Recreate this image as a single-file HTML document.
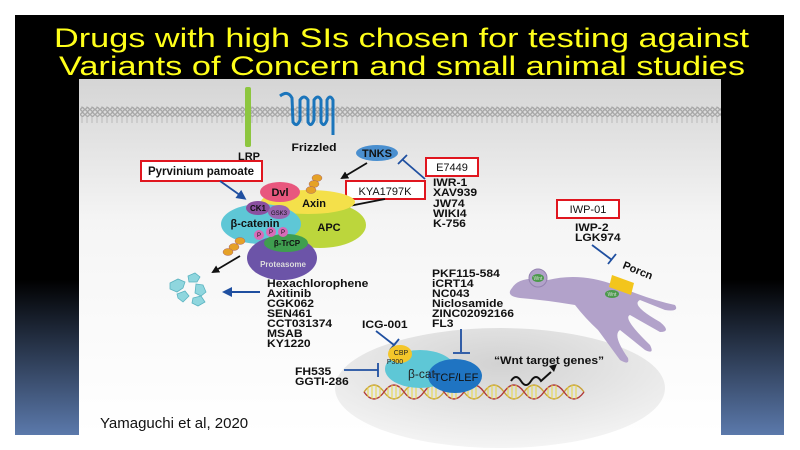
<!DOCTYPE html>
<html><head><style>
html,body{margin:0;padding:0;background:#fff;}
body{width:800px;height:450px;overflow:hidden;position:relative;}
svg{position:absolute;left:0;top:0;}
text{font-family:"Liberation Sans",sans-serif;}
.b{font-weight:bold;font-size:11px;fill:#111;}
</style></head><body>
<svg width="800" height="450" viewBox="0 0 800 450">
<defs>
<linearGradient id="bg" x1="0" y1="0" x2="0" y2="1">
<stop offset="0" stop-color="#000"/><stop offset="0.63" stop-color="#000"/><stop offset="1" stop-color="#5b79ab"/>
</linearGradient>
<linearGradient id="pn" x1="0" y1="0" x2="0" y2="1">
<stop offset="0" stop-color="#d5d5d5"/><stop offset="0.4" stop-color="#f5f5f5"/><stop offset="1" stop-color="#fff"/>
</linearGradient>
<radialGradient id="nuc" cx="0.5" cy="0.3" r="0.7">
<stop offset="0" stop-color="#d2d2d2"/><stop offset="1" stop-color="#f4f4f4"/>
</radialGradient>
<pattern id="mem" width="5" height="16" patternUnits="userSpaceOnUse">
<circle cx="2.5" cy="2.5" r="1.8" fill="none" stroke="#999" stroke-width="1.1"/>
<circle cx="2.5" cy="13.5" r="1.8" fill="none" stroke="#999" stroke-width="1.1"/>
<line x1="2" y1="4" x2="2" y2="12" stroke="#aaa" stroke-width="0.7"/>
</pattern>
<marker id="ak" markerWidth="8" markerHeight="8" refX="6" refY="4" orient="auto" markerUnits="userSpaceOnUse"><path d="M0,0 L8,4 L0,8 z" fill="#111"/></marker>
<marker id="ab" markerWidth="10" markerHeight="10" refX="7" refY="5" orient="auto" markerUnits="userSpaceOnUse"><path d="M0,0 L10,5 L0,10 z" fill="#1f4fa0"/></marker>
</defs>
<rect x="15" y="15" width="769" height="420" fill="url(#bg)"/>
<text x="54" y="47" textLength="695" lengthAdjust="spacingAndGlyphs" font-size="27" fill="#ffff1a">Drugs with high SIs chosen for testing against</text>
<text x="59" y="75" textLength="686" lengthAdjust="spacingAndGlyphs" font-size="27" fill="#ffff1a">Variants of Concern and small animal studies</text>
<rect x="79" y="79" width="642" height="356" fill="url(#pn)"/>
<rect x="80" y="106" width="641" height="17" fill="url(#mem)"/>
<!-- LRP -->
<rect x="245" y="87" width="6" height="60" fill="#8dc63f" rx="2"/>
<text x="249" y="160" class="b" text-anchor="middle">LRP</text>
<!-- Frizzled -->
<path d="M280,96 Q288,90 292,98 L293,122 Q297,128 300,120 L300,100 Q304,94 308,100 L308,122 Q311,128 314,120 L314,100 Q318,94 321,100 L321,122 Q324,128 327,120 L327,100 Q330,94 333,100 L333,135" fill="none" stroke="#1b75bb" stroke-width="3"/>
<text x="314" y="151" class="b" text-anchor="middle" transform="translate(314,0) scale(1.1,1) translate(-314,0)">Frizzled</text>
<!-- TNKS -->
<ellipse cx="377" cy="153" rx="21" ry="8" fill="#4a8fcf"/>
<text x="377" y="157" class="b" text-anchor="middle" font-size="11">TNKS</text>
<line x1="425" y1="179" x2="403" y2="160" stroke="#1f4fa0" stroke-width="1.8"/>
<line x1="398" y1="164" x2="407" y2="155" stroke="#1f4fa0" stroke-width="1.8"/>
<line x1="367" y1="163" x2="342" y2="178" stroke="#111" stroke-width="1.8" marker-end="url(#ak)"/>
<rect x="426" y="158" width="52" height="18" fill="#fff" stroke="#e0161f" stroke-width="2"/>
<text x="452" y="171" text-anchor="middle" font-size="11" fill="#111">E7449</text>
<g transform="translate(433,0) scale(1.1,1) translate(-433,0)">
<text x="433" y="186" class="b">IWR-1</text><text x="433" y="196" class="b">XAV939</text><text x="433" y="207" class="b">JW74</text><text x="433" y="217" class="b">WIKI4</text><text x="433" y="227" class="b">K-756</text></g>
<!-- Pyrvinium -->
<rect x="141" y="161" width="121" height="20" fill="#fff" stroke="#e0161f" stroke-width="2"/>
<text x="201" y="175" text-anchor="middle" font-size="11.5" font-weight="bold" fill="#111">Pyrvinium pamoate</text>
<line x1="220" y1="181" x2="244" y2="198" stroke="#1f4fa0" stroke-width="1.8" marker-end="url(#ab)"/>
<!-- KYA -->
<rect x="346" y="181" width="79" height="18" fill="#fff" stroke="#e0161f" stroke-width="2"/>
<text x="385" y="195" text-anchor="middle" font-size="11" fill="#111">KYA1797K</text>
<line x1="385" y1="199" x2="344" y2="207" stroke="#111" stroke-width="1.8" marker-end="url(#ak)"/>
<!-- complex -->
<ellipse cx="320" cy="225" rx="46" ry="23" fill="#bcd63c"/>
<ellipse cx="308" cy="202" rx="47" ry="12" fill="#f4e04a"/>
<ellipse cx="280" cy="192" rx="20" ry="10" fill="#e8577e"/>
<text x="280" y="196" class="b" text-anchor="middle" font-size="12">Dvl</text>
<text x="314" y="207" class="b" text-anchor="middle" font-size="13">Axin</text>
<text x="329" y="231" class="b" text-anchor="middle" font-size="14">APC</text>
<ellipse cx="261" cy="224" rx="40" ry="20" fill="#5ec7d6"/>
<ellipse cx="282" cy="258" rx="35" ry="22" fill="#6c54a8"/>
<text x="283" y="267" text-anchor="middle" font-size="8" font-weight="bold" fill="#ddd">Proteasome</text>
<ellipse cx="286" cy="243" rx="22" ry="9" fill="#3f9e4f"/>
<text x="287" y="246" text-anchor="middle" font-size="8" font-weight="bold" fill="#111">β-TrCP</text>
<ellipse cx="258" cy="208" rx="12" ry="7" fill="#8a4fa0"/><text x="258" y="211" text-anchor="middle" font-size="8" fill="#111" font-weight="bold">CK1</text>
<ellipse cx="279" cy="212" rx="11" ry="7" fill="#9a66b0"/><text x="279" y="215" text-anchor="middle" font-size="6" fill="#111">GSK3</text>
<text x="255" y="227" class="b" text-anchor="middle" font-size="12">β-catenin</text>
<g fill="#d86bb8"><circle cx="259" cy="235" r="5"/><circle cx="271" cy="232" r="5"/><circle cx="283" cy="232" r="5"/></g>
<g font-size="6" fill="#111" text-anchor="middle"><text x="259" y="237">P</text><text x="271" y="234">P</text><text x="283" y="234">P</text></g>
<g fill="#e5a127" stroke="#a66" stroke-width="0.5">
<ellipse cx="317" cy="178" rx="5" ry="3.5"/><ellipse cx="314" cy="184" rx="5" ry="3.5"/><ellipse cx="311" cy="190" rx="5" ry="3.5"/>
<ellipse cx="240" cy="241" rx="5" ry="3.5"/><ellipse cx="234" cy="247" rx="5" ry="3.5"/><ellipse cx="228" cy="252" rx="5" ry="3.5"/>
</g>
<line x1="240" y1="256" x2="213" y2="272" stroke="#111" stroke-width="1.8" marker-end="url(#ak)"/>
<!-- fragments -->
<g fill="#8fd6de" stroke="#5ab3c0" stroke-width="0.8">
<path d="M170,283 l8,-4 l7,3 l-2,6 l-6,4 l-7,-3z"/><path d="M188,276 l7,-3 l5,4 l-3,5 l-8,0z"/>
<path d="M196,284 l7,1 l3,7 l-5,4 l-6,-3z"/><path d="M177,294 l8,-3 l4,5 l-6,6 l-5,-4z"/><path d="M193,298 l8,-2 l4,6 l-7,4 l-6,-3z"/>
</g>
<line x1="260" y1="292" x2="225" y2="292" stroke="#1f4fa0" stroke-width="2" marker-end="url(#ab)"/>
<g transform="translate(267,0) scale(1.1,1) translate(-267,0)">
<text x="267" y="287" class="b">Hexachlorophene</text><text x="267" y="297" class="b">Axitinib</text><text x="267" y="307" class="b">CGK062</text><text x="267" y="317" class="b">SEN461</text><text x="267" y="327" class="b">CCT031374</text><text x="267" y="337" class="b">MSAB</text><text x="267" y="347" class="b">KY1220</text></g>
<!-- IWP -->
<rect x="557" y="200" width="62" height="18" fill="#fff" stroke="#e0161f" stroke-width="2"/>
<text x="588" y="213" text-anchor="middle" font-size="11" fill="#111">IWP-01</text>
<g transform="translate(575,0) scale(1.1,1) translate(-575,0)">
<text x="575" y="231" class="b">IWP-2</text><text x="575" y="241" class="b">LGK974</text></g>
<line x1="592" y1="245" x2="612" y2="260" stroke="#1f4fa0" stroke-width="1.8"/>
<line x1="608" y1="264" x2="616" y2="254" stroke="#1f4fa0" stroke-width="1.8"/>
<!-- nucleus -->
<ellipse cx="500" cy="388" rx="165" ry="60" fill="url(#nuc)"/>
<!-- ER -->
<path d="M512,288 Q520,275 548,280 Q580,272 615,285 Q650,300 675,305 Q680,312 665,310 L640,300 Q630,305 660,322 Q672,332 660,332 L630,315 Q622,318 650,345 Q655,355 645,350 L620,330 Q612,335 628,358 Q630,366 620,360 L598,330 Q585,318 575,305 Q545,300 520,298 Q505,296 512,288z" fill="#b2a2ca"/>
<circle cx="538" cy="278" r="9" fill="#b2a2ca" stroke="#9482b0"/>
<ellipse cx="538" cy="278" rx="6" ry="4" fill="#4c9a4c"/>
<text x="538" y="280" text-anchor="middle" font-size="5" fill="#ddd">Wnt</text>
<path d="M612,275 l22,8 l-3,12 l-22,-8z" fill="#f3c51c"/>
<ellipse cx="612" cy="294" rx="7" ry="4" fill="#4c9a4c"/>
<text x="612" y="296" text-anchor="middle" font-size="5" fill="#ddd">Wnt</text>
<text x="622" y="268" class="b" transform="rotate(22 622 268)">Porcn</text>
<g transform="translate(432,0) scale(1.1,1) translate(-432,0)">
<text x="432" y="277" class="b">PKF115-584</text><text x="432" y="287" class="b">iCRT14</text><text x="432" y="297" class="b">NC043</text><text x="432" y="307" class="b">Niclosamide</text><text x="432" y="317" class="b">ZINC02092166</text><text x="432" y="327" class="b">FL3</text></g>
<text x="362" y="328" class="b" transform="translate(362,0) scale(1.1,1) translate(-362,0)">ICG-001</text>
<line x1="376" y1="331" x2="394" y2="345" stroke="#1f4fa0" stroke-width="1.8"/>
<line x1="390" y1="350" x2="399" y2="339" stroke="#1f4fa0" stroke-width="1.8"/>
<line x1="461" y1="329" x2="461" y2="352" stroke="#1f4fa0" stroke-width="1.8"/>
<line x1="453" y1="353" x2="470" y2="353" stroke="#1f4fa0" stroke-width="1.8"/>
<g transform="translate(295,0) scale(1.1,1) translate(-295,0)">
<text x="295" y="375" class="b">FH535</text><text x="295" y="385" class="b">GGTI-286</text></g>
<line x1="344" y1="370" x2="378" y2="370" stroke="#1f4fa0" stroke-width="1.8"/>
<line x1="378" y1="363" x2="378" y2="377" stroke="#1f4fa0" stroke-width="1.8"/>
<!-- DNA -->
<g stroke-width="1.4" fill="none">
<path d="M364,392 q10,-14 20,0 t20,0 t20,0 t20,0 t20,0 t20,0 t20,0 t20,0 t20,0 t20,0 t20,0" stroke="#c9a23a"/>
<path d="M364,392 q10,14 20,0 t20,0 t20,0 t20,0 t20,0 t20,0 t20,0 t20,0 t20,0 t20,0 t20,0" stroke="#b03a3a"/>
</g>
<g stroke="#e8d840" stroke-width="1">
<path d="M368,387 v10 M372,385 v14 M376,385 v14 M380,387 v10 M388,387 v10 M392,385 v14 M396,385 v14 M400,387 v10 M408,387 v10 M412,385 v14 M416,385 v14 M428,387 v10 M432,385 v14 M436,385 v14 M448,387 v10 M452,385 v14 M456,385 v14 M468,387 v10 M472,385 v14 M476,385 v14 M488,387 v10 M492,385 v14 M496,385 v14 M508,387 v10 M512,385 v14 M516,385 v14 M528,387 v10 M532,385 v14 M536,385 v14 M548,387 v10 M552,385 v14 M556,385 v14 M568,387 v10 M572,385 v14 M576,385 v14"/>
</g>
<ellipse cx="420" cy="369" rx="35" ry="19" fill="#5ec7d6"/>
<ellipse cx="455" cy="376" rx="27" ry="17" fill="#1f74c2"/>
<ellipse cx="400" cy="354" rx="12" ry="9" fill="#f4c62a"/>
<text x="401" y="355" text-anchor="middle" font-size="7" fill="#222">CBP</text>
<text x="395" y="364" text-anchor="middle" font-size="7" fill="#222">P300</text>
<text x="408" y="378" font-size="12" fill="#222">β-cat</text>
<text x="456" y="381" text-anchor="middle" font-size="11" fill="#111">TCF/LEF</text>
<text x="494" y="364" class="b" font-size="12" transform="translate(494,0) scale(1.1,1) translate(-494,0)">“Wnt target genes”</text>
<path d="M511,381 q5,-8 10,0 t10,0 t10,0 l10,-9" fill="none" stroke="#111" stroke-width="2"/>
<path d="M549,366 l8,-2 l-3,8z" fill="#111"/>
<text x="100" y="428" font-size="15" fill="#111">Yamaguchi et al, 2020</text>
</svg>
</body></html>
